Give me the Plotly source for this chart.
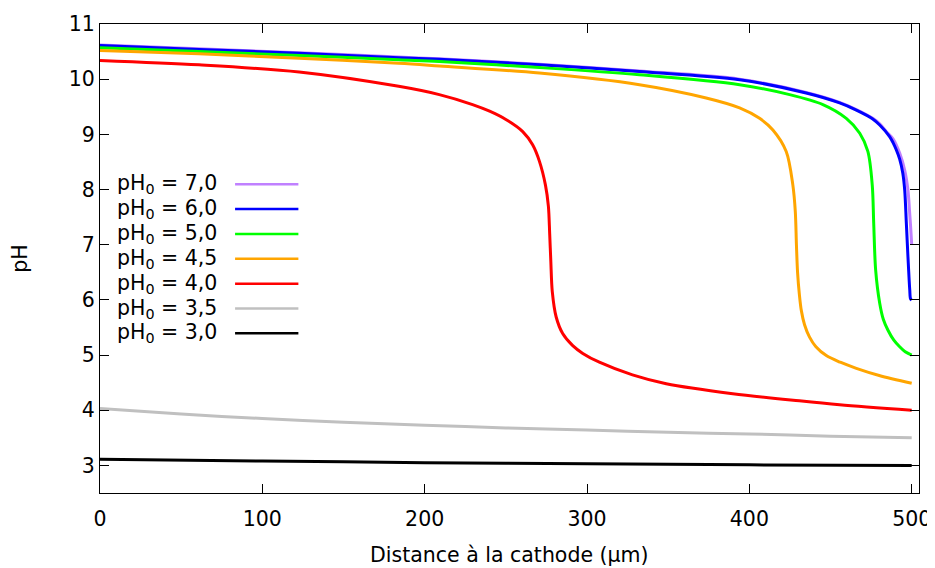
import plotly.graph_objects as go

# ---- data ----
labels = ["pH<sub>0</sub> = 7,0", "pH<sub>0</sub> = 6,0", "pH<sub>0</sub> = 5,0",
          "pH<sub>0</sub> = 4,5", "pH<sub>0</sub> = 4,0", "pH<sub>0</sub> = 3,5",
          "pH<sub>0</sub> = 3,0"]

x_ph70 = [0, 61, 122.7, 184, 209, 270.7, 332.3, 394, 435, 455.6, 465.9, 476, 480.3, 485, 488.5, 492.6, 495.7, 497.7, 498.7, 499.4, 500]
y_ph70 = [10.62, 10.55, 10.48, 10.40, 10.37, 10.27, 10.15, 10.00, 9.76, 9.58, 9.45, 9.29, 9.19, 9.03, 8.92, 8.66, 8.35, 7.99, 7.60, 7.30, 7.00]

x_ph60 = [0, 61, 122.7, 184, 209, 270.7, 332.3, 394, 435, 455.6, 465.9, 476, 480.3, 486.4, 488.5, 490.5, 492.6, 494.5, 495.7, 496.7, 497.7, 498.8, 499.3, 500]
y_ph60 = [10.61, 10.54, 10.47, 10.39, 10.36, 10.26, 10.14, 9.99, 9.75, 9.57, 9.44, 9.28, 9.17, 8.96, 8.85, 8.72, 8.55, 8.30, 7.99, 7.39, 6.78, 6.18, 6.02, 6.00]

x_ph50 = [0, 61, 122.7, 184, 209, 270.7, 332.3, 394, 424.8, 445.3, 459.7, 468, 473, 475.7, 476.6, 477.8, 480.3, 482.5, 485.4, 489, 492.6, 496, 500]
y_ph50 = [10.57, 10.50, 10.43, 10.35, 10.32, 10.21, 10.08, 9.90, 9.72, 9.54, 9.29, 9.02, 8.69, 8.08, 7.39, 6.54, 5.94, 5.65, 5.45, 5.27, 5.15, 5.06, 5.00]

x_ph45 = [0, 61, 122.7, 184, 209, 270.7, 332.3, 373.4, 394, 406.3, 414.5, 422.7, 426.8, 428.3, 429.0, 429.7, 430.8, 432, 434, 437, 441, 447.4, 456, 465.9, 480, 500]
y_ph45 = [10.52, 10.46, 10.38, 10.29, 10.24, 10.11, 9.90, 9.66, 9.48, 9.29, 9.08, 8.69, 8.08, 7.60, 7.00, 6.50, 6.10, 5.81, 5.55, 5.33, 5.15, 4.99, 4.87, 4.76, 4.63, 4.49]

x_ph40 = [0, 61, 122.7, 184, 209, 229.5, 240, 250, 260.4, 266.5, 270.7, 274.4, 276.2, 277.0, 277.7, 278.6, 281, 285, 291.2, 297.4, 307.6, 328, 348.8, 389.8, 430.8, 455.6, 500]
y_ph40 = [10.34, 10.26, 10.13, 9.87, 9.72, 9.54, 9.42, 9.27, 9.05, 8.81, 8.51, 8.08, 7.70, 7.20, 6.70, 6.15, 5.69, 5.39, 5.17, 5.03, 4.87, 4.64, 4.48, 4.30, 4.17, 4.10, 4.00]

x_ph35 = [0, 50, 100, 150, 200, 250, 300, 350, 400, 450, 500]
y_ph35 = [4.03, 3.93, 3.85, 3.78, 3.73, 3.68, 3.64, 3.60, 3.57, 3.53, 3.50]

x_ph30 = [0, 100, 200, 300, 400, 500]
y_ph30 = [3.11, 3.08, 3.05, 3.03, 3.01, 3.00]

x_ticks = [0, 100, 200, 300, 400, 500]
y_ticks = [3, 4, 5, 6, 7, 8, 9, 10, 11]

series_x = [x_ph70, x_ph60, x_ph50, x_ph45, x_ph40, x_ph35, x_ph30]
series_y = [y_ph70, y_ph60, y_ph50, y_ph45, y_ph40, y_ph35, y_ph30]
colors = ["#c080ff", "#0000ff", "#00ff00", "#ffa500", "#ff0000", "#c0c0c0", "#000000"]

FONT = "DejaVu Sans"
FS = 20.5

fig = go.Figure()
for xs, ys, c, name in zip(series_x, series_y, colors, labels):
    fig.add_trace(go.Scatter(x=xs, y=ys, mode="lines", name=name,
                             line=dict(color=c, width=3, shape="spline", smoothing=0.9),
                             showlegend=False, hoverinfo="skip"))

# manual gnuplot-style key (text then sample line)
key_text_x = 73.4
key_line_x0, key_line_x1 = 83.2, 122.2
key_y0, key_step = 8.096, 0.4505
for i, (name, c) in enumerate(zip(labels, colors)):
    yk = key_y0 - i * key_step
    fig.add_annotation(x=key_text_x, y=yk, xref="x", yref="y", text=name,
                       showarrow=False, xanchor="right", yanchor="middle",
                       font=dict(family=FONT, size=FS, color="black"))
    fig.add_shape(type="line", xref="x", yref="y", x0=key_line_x0, x1=key_line_x1,
                  y0=yk, y1=yk, line=dict(color=c, width=2.5))

# x-axis title as an annotation (axis title standoff is ignored without automargin)
fig.add_annotation(x=0.5, y=-62, xref="paper", yref="paper", yshift=0,
                   text="Distance à la cathode (µm)", showarrow=False,
                   xanchor="center", yanchor="middle",
                   font=dict(family=FONT, size=FS, color="black"))
fig.layout.annotations[-1].y = -62 / 469.0

# the page body has an 8px margin; size the figure so it lands like the reference
fig.update_layout(
    width=927, height=560,
    margin=dict(l=92, r=16, t=16, b=75),
    paper_bgcolor="white", plot_bgcolor="white",
    font=dict(family=FONT, size=FS, color="black"),
    showlegend=False,
)
fig.update_xaxes(range=[0, 504.5], tickvals=x_ticks, ticks="inside", ticklen=9,
                 tickwidth=1, tickcolor="black", showline=True, linecolor="black",
                 linewidth=1, mirror="ticks", showgrid=False, zeroline=False,
                 automargin=False, ticklabelstandoff=7,
                 tickfont=dict(family=FONT, size=FS))
fig.update_yaxes(range=[2.5, 11], tickvals=y_ticks, ticks="inside", ticklen=9,
                 tickwidth=1, tickcolor="black", showline=True, linecolor="black",
                 linewidth=1, mirror="ticks", showgrid=False, zeroline=False,
                 automargin=False,
                 title=dict(text="pH", standoff=38, font=dict(family=FONT, size=FS)),
                 tickfont=dict(family=FONT, size=FS))

fig.write_html("out.html")
